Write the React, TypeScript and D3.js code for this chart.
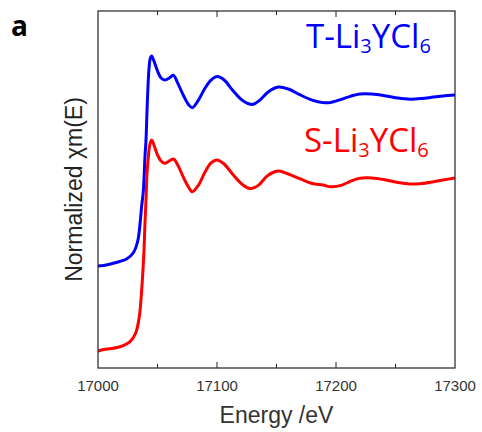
import React from "react";
import * as d3 from "d3";

// Energies (eV) and normalized absorption
const ENERGY_S = [17000, 17003, 17018.5, 17026.9, 17031.7, 17034.7, 17036.7, 17038.4, 17039.5, 17040.5, 17041.2, 17042.3, 17043.5, 17045, 17047, 17050, 17053, 17056, 17060, 17063.5, 17067, 17072, 17076, 17079.2, 17084, 17090, 17095, 17100, 17106, 17113, 17120, 17126, 17129.5, 17135, 17142, 17148, 17152, 17160, 17170, 17180, 17189, 17196, 17205, 17212, 17220, 17230, 17242, 17252, 17262, 17272, 17282, 17290, 17300];
const MU_S = [0, 0.006, 0.025, 0.055, 0.106, 0.202, 0.359, 0.555, 0.753, 0.918, 1.047, 1.141, 1.212, 1.241, 1.212, 1.153, 1.118, 1.104, 1.118, 1.129, 1.094, 1.018, 0.965, 0.937, 0.971, 1.053, 1.106, 1.124, 1.1, 1.041, 0.988, 0.959, 0.957, 0.976, 1.029, 1.053, 1.059, 1.041, 1.012, 0.985, 0.976, 0.966, 0.976, 0.998, 1.016, 1.018, 1.006, 0.991, 0.982, 0.985, 0.996, 1.006, 1.018];

const ENERGY_T = [17000, 17005, 17014.3, 17024, 17029.7, 17033.4, 17035.3, 17036.7, 17038.1, 17039.5, 17040.3, 17041.5, 17042.9, 17044, 17045, 17047, 17050, 17053, 17056.3, 17060, 17063.3, 17067, 17072, 17076, 17079.2, 17084, 17090, 17095, 17100.3, 17106, 17113, 17120, 17126, 17130.5, 17136, 17143, 17151.5, 17160, 17170, 17180, 17189, 17195, 17205, 17212, 17220, 17230, 17242.6, 17252, 17262, 17272, 17282, 17290, 17300];
const MU_T = [0, 0.003, 0.019, 0.041, 0.078, 0.147, 0.247, 0.353, 0.441, 0.647, 0.735, 0.971, 1.165, 1.224, 1.235, 1.206, 1.147, 1.106, 1.094, 1.106, 1.122, 1.076, 1.0, 0.95, 0.931, 0.971, 1.047, 1.094, 1.114, 1.094, 1.035, 0.982, 0.956, 0.951, 0.976, 1.024, 1.053, 1.041, 1.006, 0.976, 0.961, 0.961, 0.982, 0.998, 1.012, 1.012, 1.0, 0.988, 0.981, 0.985, 0.994, 1.0, 1.006];

const T_OFFSET = 0.5;

const X_DOMAIN = [17000, 17300];
const Y_DOMAIN = [-0.1, 2.0];
const MAJOR_TICKS = [17000, 17100, 17200, 17300];
const MINOR_TICKS = [17050, 17150, 17250];

const W = 482;
const H = 432;
const L = 98, R = 455, T = 11, B = 368;

export default function App() {
  const x = d3.scaleLinear().domain(X_DOMAIN).range([L, R]);
  const y = d3.scaleLinear().domain(Y_DOMAIN).range([B, T]);

  const line = d3
    .line<[number, number]>()
    .x((d) => x(d[0]))
    .y((d) => y(d[1]))
    .curve(d3.curveCatmullRom.alpha(0.5));

  const sData: [number, number][] = ENERGY_S.map((e, i) => [e, MU_S[i]]);
  const tData: [number, number][] = ENERGY_T.map((e, i) => [e, MU_T[i] + T_OFFSET]);

  const axisColor = "#222";
  const font = "'Liberation Sans', Arial, sans-serif";
  const legendFont = "'Open Sans', 'Noto Sans', sans-serif";

  const innerTicks = (val: number, len: number, key: string) => (
    <g key={key}>
      <line x1={x(val)} x2={x(val)} y1={B} y2={B - len} stroke={axisColor} strokeWidth={1} />
      <line x1={x(val)} x2={x(val)} y1={T} y2={T + len} stroke={axisColor} strokeWidth={1} />
    </g>
  );

  return (
    <svg
      width={W}
      height={H}
      style={{ position: "absolute", left: 0, top: 0, background: "#fff" }}
    >
      <rect x={0} y={0} width={W} height={H} fill="#fff" />
      <text x={11} y={36} fontFamily={legendFont} fontWeight={700} fontSize={28} fill="#000">
        a
      </text>

      <defs>
        <clipPath id="plotclip">
          <rect x={L} y={T} width={R - L} height={B - T} />
        </clipPath>
      </defs>

      <g clipPath="url(#plotclip)">
        <path d={line(tData) || ""} fill="none" stroke="#0000ff" strokeWidth={3} strokeLinejoin="round" />
        <path d={line(sData) || ""} fill="none" stroke="#ff0000" strokeWidth={3} strokeLinejoin="round" />
      </g>

      {MAJOR_TICKS.filter((v) => v !== X_DOMAIN[0] && v !== X_DOMAIN[1]).map((v) => innerTicks(v, 6, "M" + v))}
      {MINOR_TICKS.map((v) => innerTicks(v, 4, "m" + v))}

      <rect x={L} y={T} width={R - L} height={B - T} fill="none" stroke={axisColor} strokeWidth={1.2} />

      {MAJOR_TICKS.map((v) => (
        <text key={"l" + v} x={x(v)} y={390.7} textAnchor="middle" fontFamily={font} fontSize={15} fill="#333">
          {v}
        </text>
      ))}

      <text x={(L + R) / 2} y={422.7} textAnchor="middle" fontFamily={font} fontSize={23} fill="#333">
        Energy /eV
      </text>

      <text
        transform={`translate(81.5, ${(T + B) / 2}) rotate(-90)`}
        textAnchor="middle"
        fontFamily={font}
        fontSize={23}
        fill="#222"
      >
        Normalized χm(E)
      </text>

      <text x={306} y={48.3} fontFamily={legendFont} fontSize={33} fill="#0000ff">
        T-Li<tspan fontSize={20} dy={5}>3</tspan>
        <tspan dy={-5}>YCl</tspan>
        <tspan fontSize={20} dy={5}>6</tspan>
      </text>
      <text x={304} y={151.7} fontFamily={legendFont} fontSize={33} fill="#ff0000">
        S-Li<tspan fontSize={20} dy={5}>3</tspan>
        <tspan dy={-5}>YCl</tspan>
        <tspan fontSize={20} dy={5}>6</tspan>
      </text>
    </svg>
  );
}
